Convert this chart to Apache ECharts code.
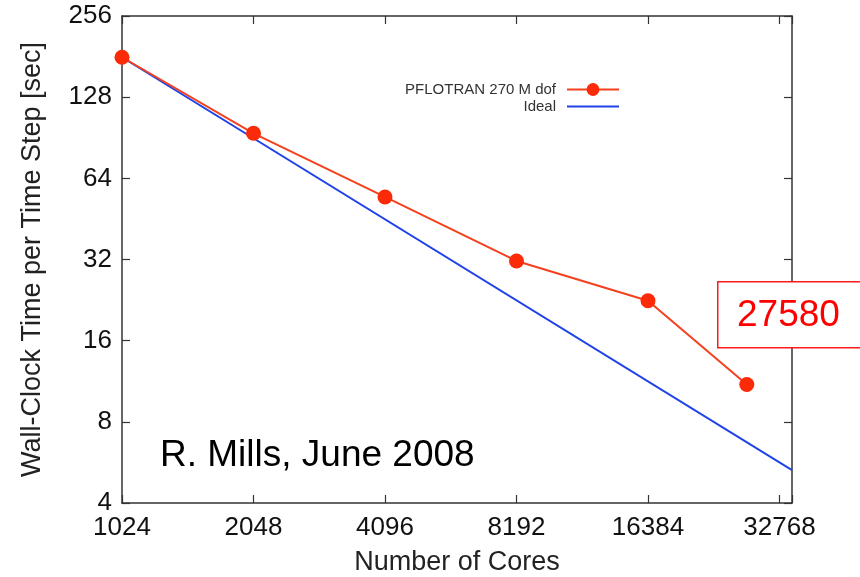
<!DOCTYPE html>
<html>
<head>
<meta charset="utf-8">
<script src="https://cdn.jsdelivr.net/npm/echarts@6/dist/echarts.min.js"></script>
<style>
html,body{margin:0;padding:0;background:#fff;}
#chart{width:860px;height:577px;}
</style>
</head>
<body>
<div id="chart"></div>
<script>
// Data
const cores = [1024, 2048, 4096, 8192, 16384, 27580];
const wallTime = [180, 94, 54.6, 31.6, 22.5, 11.0];
const idealCores = [1024, 35000];
const idealTime = [180, 5.3];
const xTicks = [1024, 2048, 4096, 8192, 16384, 32768];
const yTicks = [4, 8, 16, 32, 64, 128, 256];
const seriesNames = ['PFLOTRAN 270 M dof', 'Ideal'];

const FONT = '"Liberation Sans", Arial, Helvetica, sans-serif';
const isPow2 = v => Math.abs(Math.log2(v) - Math.round(Math.log2(v))) < 1e-6;

const chart = echarts.init(document.getElementById('chart'), null, {renderer: 'canvas'});

const axisLineStyle = {color: '#333', width: 1.5};
const tickCommon = {show: true, inside: true, length: 8, lineStyle: {color: '#333', width: 1.2}};

const option = {
  backgroundColor: '#fff',
  animation: false,
  grid: {left: 122, right: 68, top: 16, bottom: 74, containLabel: false, outerBoundsMode: 'none'},
  legend: {
    orient: 'vertical',
    right: 235,
    top: 77,
    align: 'right',
    itemWidth: 52,
    itemHeight: 16,
    itemGap: 2,
    textStyle: {fontFamily: FONT, fontSize: 15, color: '#333', padding: [0, 6, 0, 0]},
    data: [{name: seriesNames[0]}, {name: seriesNames[1], itemStyle: {opacity: 0}}]
  },
  xAxis: [{
    type: 'log',
    logBase: 2,
    min: 1024,
    max: 35000,
    position: 'bottom',
    name: 'Number of Cores',
    nameLocation: 'middle',
    nameGap: 46,
    nameTextStyle: {fontFamily: FONT, fontSize: 27, color: '#222'},
    axisLine: {show: true, lineStyle: axisLineStyle},
    axisTick: tickCommon,
    splitLine: {show: false},
    minorTick: {show: false},
    axisLabel: {
      fontFamily: FONT, fontSize: 26, color: '#111', margin: 12,
      formatter: v => (isPow2(v) && xTicks.includes(Math.round(v))) ? String(Math.round(v)) : ''
    }
  }, {
    type: 'log',
    logBase: 2,
    min: 1024,
    max: 35000,
    position: 'top',
    axisLine: {show: true, lineStyle: axisLineStyle},
    axisTick: tickCommon,
    axisLabel: {show: false},
    splitLine: {show: false}
  }],
  yAxis: [{
    type: 'log',
    logBase: 2,
    min: 4,
    max: 256,
    position: 'left',
    name: 'Wall-Clock Time per Time Step [sec]',
    nameLocation: 'middle',
    nameGap: 76,
    nameTextStyle: {fontFamily: FONT, fontSize: 27, color: '#222'},
    axisLine: {show: true, lineStyle: axisLineStyle},
    axisTick: tickCommon,
    splitLine: {show: false},
    axisLabel: {
      fontFamily: FONT, fontSize: 26, color: '#111', margin: 10,
      formatter: v => (isPow2(v) && yTicks.includes(Math.round(v))) ? String(Math.round(v)) : ''
    }
  }, {
    type: 'log',
    logBase: 2,
    min: 4,
    max: 256,
    position: 'right',
    axisLine: {show: true, lineStyle: axisLineStyle},
    axisTick: tickCommon,
    axisLabel: {show: false},
    splitLine: {show: false}
  }],
  series: [{
    name: seriesNames[0],
    type: 'line',
    data: cores.map((c, i) => [c, wallTime[i]]),
    symbol: 'circle',
    symbolSize: 15,
    z: 3,
    itemStyle: {color: '#fb2a08'},
    lineStyle: {color: '#f5401e', width: 2}
  }, {
    name: seriesNames[1],
    type: 'line',
    data: idealCores.map((c, i) => [c, idealTime[i]]),
    symbol: 'none',
    z: 2,
    itemStyle: {color: '#2043e8'},
    lineStyle: {color: '#2043e8', width: 2}
  }],
  graphic: [{
    type: 'rect',
    left: 717,
    top: 281,
    shape: {width: 150, height: 66},
    style: {fill: '#fff', stroke: '#ff1a1a', lineWidth: 1.5},
    z: 10
  }, {
    type: 'text',
    left: 737,
    top: 297,
    style: {text: '27580', fill: '#ff0000', font: '37px ' + FONT},
    z: 11
  }, {
    type: 'text',
    left: 160,
    top: 437,
    style: {text: 'R. Mills, June 2008', fill: '#000', font: '37px ' + FONT},
    z: 11
  }]
};
chart.setOption(option);
</script>
</body>
</html>
